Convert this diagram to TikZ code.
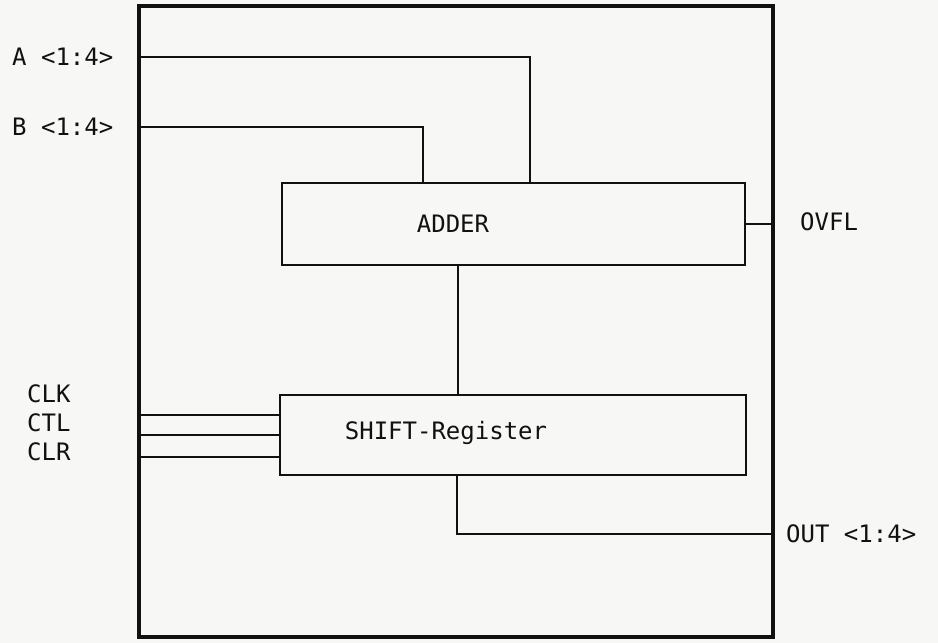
\documentclass[tikz,border=0pt]{standalone}
\usepackage{fontspec}
\setmonofont{DejaVu Sans Mono}
\usepackage{xcolor}
\usepackage{tikz}
\usetikzlibrary{positioning}
\definecolor{paper}{HTML}{F7F7F5}
\definecolor{ink}{HTML}{111111}
\tikzset{
  chipframe/.style={draw=ink, line width=4.5pt, minimum width=634pt, minimum height=631pt},
  unitbox/.style={draw=ink, line width=2pt},
  wire/.style={draw=ink, line width=2pt},
  sigtext/.style={text=ink, inner sep=0pt, anchor=west, font=\ttfamily\fontsize{24}{26}\selectfont}
}

\begin{document}
\begin{tikzpicture}[x=1pt, y=-1pt]
    \fill[paper] (0,0) rectangle (938,643);
    \useasboundingbox (0,0) rectangle (938,643);
    \node[chipframe] (chip) at (456,321.5) {};
    \node[unitbox, minimum width=463pt, minimum height=82pt] (adder) at (513.5,224) {};
    \node[unitbox, minimum width=466pt, minimum height=80pt] (shift) at (513,435) {};
    \node[sigtext, anchor=center] (adder-txt) at (453,224) {ADDER};
    \node[sigtext, anchor=center] (shift-txt) at (446,433) {SHIFT-Register};

    \node[sigtext] (a-txt) at (12,57) {A <1:4>};
    \node[sigtext] (b-txt) at (12,127) {B <1:4>};
    \node[sigtext] (clk-txt) at (27,394) {CLK};
    \node[sigtext] (ctl-txt) at (27,423) {CTL};
    \node[sigtext] (clr-txt) at (27,452) {CLR};
    \node[sigtext] (ovfl-txt) at (800,222) {OVFL};
    \node[sigtext] (out-txt) at (786,534) {OUT <1:4>};

    \draw[wire] (chip.west |- a-txt) -| ([xshift=16.5pt]adder.north);
    \draw[wire] (chip.west |- b-txt) -| ([xshift=-90.5pt]adder.north);
    \draw[wire] (adder.east) -- (adder.east -| chip.east);
    \draw[wire] ([xshift=-55.5pt]adder.south) -- ([xshift=-55.5pt]adder.south |- shift.north);
    \foreach \dy in {20,0,-22}
      \draw[wire] ([yshift=\dy pt]shift.west) -- ([yshift=\dy pt]shift.west -| chip.west);
    \draw[wire] ([xshift=-56pt]shift.south) |- (chip.east |- out-txt);
\end{tikzpicture}
\end{document}
